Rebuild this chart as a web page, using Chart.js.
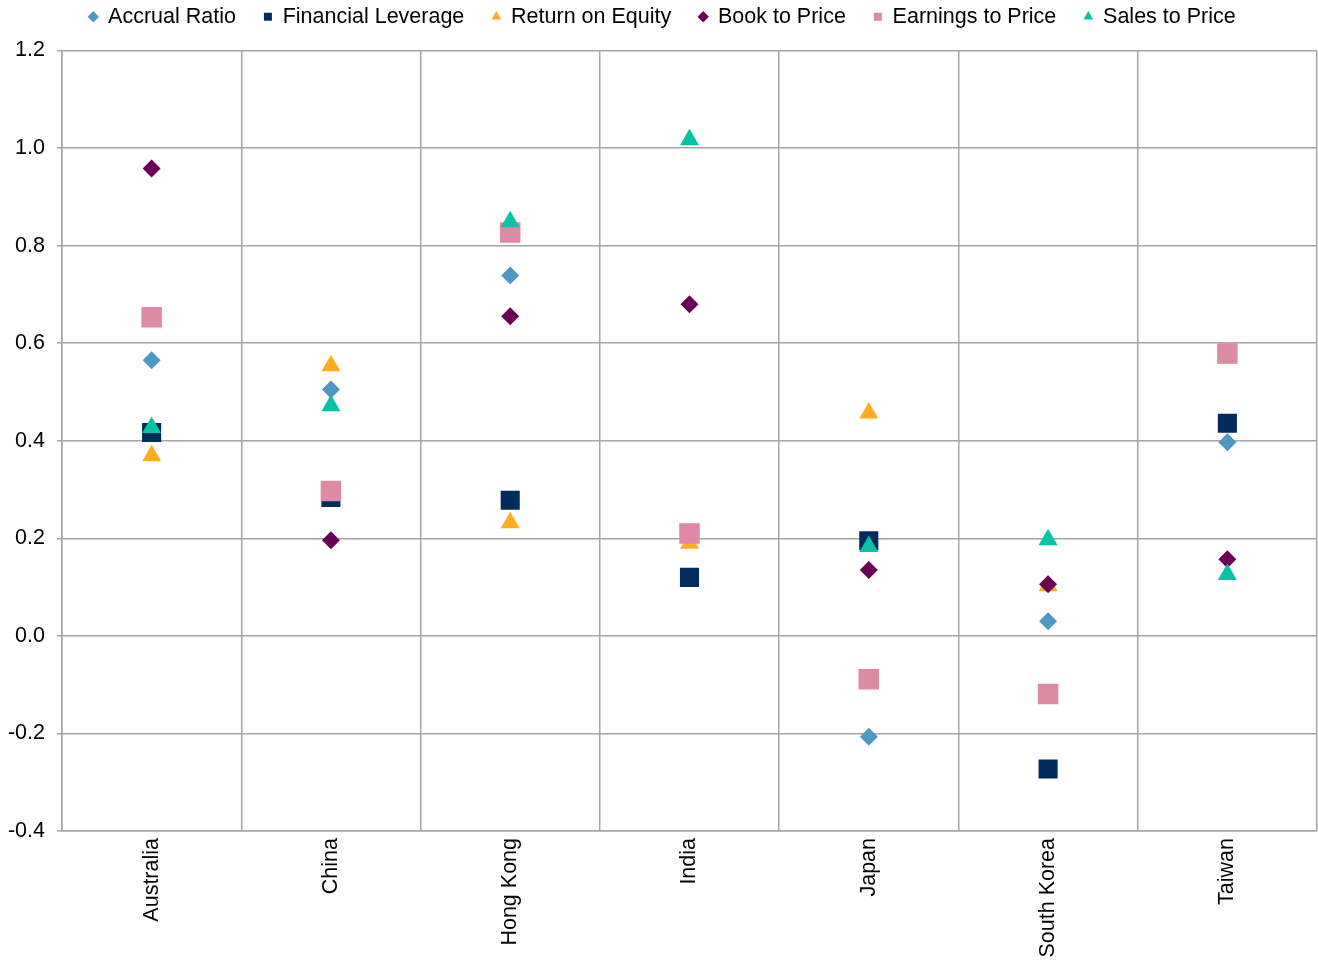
<!DOCTYPE html>
<html>
<head>
<meta charset="utf-8">
<title>Factor scores by market</title>
<script src="https://cdn.jsdelivr.net/npm/chart.js@4.4.1/dist/chart.umd.min.js"></script>
<style>
    html, body { margin: 0; padding: 0; background: #ffffff; }
    #wrap { width: 1318px; height: 962px; position: relative; }
</style>
</head>
<body>
<div id="wrap"><canvas id="factorChart"></canvas></div>
<script>
// Markets on the x axis
const markets = ['Australia', 'China', 'Hong Kong', 'India', 'Japan', 'South Korea', 'Taiwan'];

// Series values, one per market
const accrualRatio      = [0.565, 0.505, 0.739, null, -0.207, 0.030, 0.397];
const financialLeverage = [0.417, 0.284, 0.278, 0.120, 0.195, -0.273, 0.436];
const returnOnEquity    = [0.369, 0.554, 0.232, 0.190, 0.457, 0.103, 0.570];
const bookToPrice       = [0.958, 0.196, 0.655, 0.680, 0.135, 0.106, 0.157];
const earningsToPrice   = [0.653, 0.297, 0.827, 0.210, -0.089, -0.119, 0.579];
const salesToPrice      = [0.427, 0.472, 0.849, 1.017, 0.183, 0.197, 0.126];

// Y axis range
const yMin = -0.4;
const yMax = 1.2;
const yStep = 0.2;

const gridColor = '#a6a6a6';
const fontFamily = "'Liberation Sans', Arial, sans-serif";
const fontSize = 21.5;

// later series sit on top of earlier ones, so draw order runs backwards
function series(label, data, color, style, radius, order) {
    return {
        label: label,
        data: data,
        order: order,
        showLine: false,
        pointStyle: style,
        pointRadius: radius,
        pointHoverRadius: radius,
        pointBackgroundColor: color,
        pointBorderColor: color,
        pointBorderWidth: 0,
        backgroundColor: color,
        borderColor: color,
        borderWidth: 0
    };
}

// extra room under the legend row
const legendGap = {
    id: 'legendGap',
    beforeLayout: function (chart) {
        const legend = chart.legend;
        if (!legend || legend._gapPatched) return;
        const fit = legend.fit;
        legend.fit = function () {
            fit.call(this);
            this.height += 13;
        };
        legend._gapPatched = true;
    }
};

const ctx = document.getElementById('factorChart');

new Chart(ctx, {
    type: 'line',
    data: {
        labels: markets,
        datasets: [
            series('Accrual Ratio', accrualRatio, '#4f98c3', 'rectRot', 9, 6),
            series('Financial Leverage', financialLeverage, '#002b5c', 'rect', 13.5, 5),
            series('Return on Equity', returnOnEquity, '#ffad1f', 'triangle', 11, 4),
            series('Book to Price', bookToPrice, '#6b0057', 'rectRot', 9, 3),
            series('Earnings to Price', earningsToPrice, '#dd8ba4', 'rect', 14.5, 2),
            series('Sales to Price', salesToPrice, '#05c3a4', 'triangle', 11, 1)
        ]
    },
    plugins: [legendGap],
    options: {
        responsive: true,
        maintainAspectRatio: false,
        animation: false,
        layout: {
            autoPadding: false,
            padding: { top: -22, right: 1, bottom: 5, left: 8 }
        },
        plugins: {
            legend: {
                display: true,
                position: 'top',
                labels: {
                    usePointStyle: true,
                    boxWidth: 8,
                    boxHeight: 8,
                    padding: 28,
                    color: '#000000',
                    font: { size: fontSize, family: fontFamily },
                    sort: function (a, b) {
                        return a.datasetIndex - b.datasetIndex;
                    }
                }
            },
            tooltip: { enabled: false }
        },
        scales: {
            x: {
                type: 'category',
                offset: true,
                grid: {
                    offset: true,
                    color: gridColor,
                    lineWidth: 1.5,
                    drawTicks: false
                },
                border: { color: gridColor, width: 1.5 },
                ticks: {
                    color: '#000000',
                    padding: 7,
                    minRotation: 90,
                    maxRotation: 90,
                    autoSkip: false,
                    font: { size: fontSize, family: fontFamily }
                },
                afterFit: function (scale) {
                    // fixed band for the rotated labels, no side room
                    scale.paddingLeft = 0;
                    scale.paddingRight = 0;
                    scale.height = 126;
                }
            },
            y: {
                min: yMin,
                max: yMax,
                grid: {
                    color: gridColor,
                    lineWidth: 1.5,
                    tickLength: 5
                },
                border: { color: gridColor, width: 1.5 },
                ticks: {
                    stepSize: yStep,
                    color: '#000000',
                    padding: 12,
                    font: { size: fontSize, family: fontFamily },
                    callback: function (value) {
                        return Number(value).toFixed(1);
                    }
                },
                afterFit: function (scale) {
                    scale.width = 54;
                }
            }
        }
    }
});
</script>
</body>
</html>
